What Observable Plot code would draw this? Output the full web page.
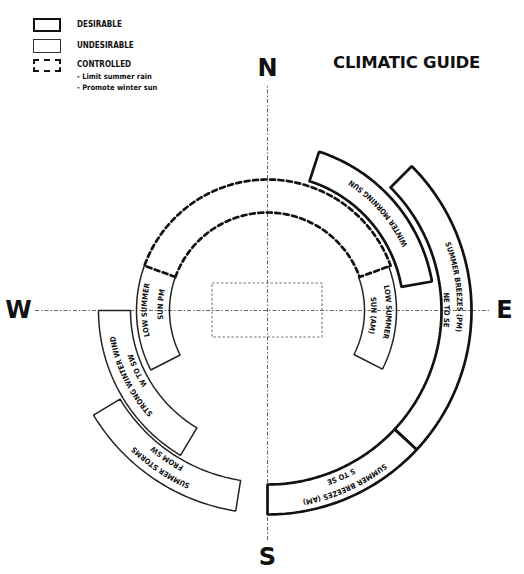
<!DOCTYPE html>
<html><head><meta charset="utf-8">
<script src="https://cdn.jsdelivr.net/npm/d3@7"></script>
<script src="https://cdn.jsdelivr.net/npm/@observablehq/plot@0.6"></script>
<style>
body{margin:0;background:#fff;}
#wrap{position:relative;width:524px;height:574px;overflow:hidden;font-family:"DejaVu Sans Condensed","DejaVu Sans",sans-serif;color:#111;}
#wrap svg{position:absolute;left:0;top:0;}
.lg-box{position:absolute;left:33px;width:28px;box-sizing:border-box;}
.lg-txt{position:absolute;left:77px;font-weight:bold;font-size:8px;line-height:10px;white-space:nowrap;}
#title{position:absolute;left:333px;top:53px;font-family:"DejaVu Sans",sans-serif;font-weight:bold;font-size:16.5px;white-space:nowrap;letter-spacing:-0.2px;}
</style></head>
<body><div id="wrap">
<div class="lg-box" style="top:18px;height:14px;border:2.6px solid #111;"></div>
<div class="lg-box" style="top:39px;height:14px;border:1.4px solid #333;"></div>
<div class="lg-box" style="top:59px;height:13px;border:2px dashed #111;"></div>
<div class="lg-txt" style="top:20px;">DESIRABLE</div>
<div class="lg-txt" style="top:41px;">UNDESIRABLE</div>
<div class="lg-txt" style="top:60px;">CONTROLLED</div>
<div class="lg-txt" style="top:72px;font-size:7.5px;">- Limit summer rain</div>
<div class="lg-txt" style="top:83px;font-size:7.5px;">- Promote winter sun</div>
<div id="title">CLIMATIC GUIDE</div>
</div>
<script>
// ---- data ----
const bandNames   = ["WINTER MORNING SUN","SUMMER BREEZES (PM)","SUMMER BREEZES (AM)","LOW SUMMER SUN (AM)","LOW SUMMER SUN PM","STRONG WINTER WIND","SUMMER STORMS"];
const bandKind    = ["desirable","desirable","desirable","undesirable","undesirable","undesirable","undesirable"];
const bandStart   = [18, 45, 133, 70, 243, 211, 189];   // compass bearing, degrees
const bandEnd     = [80, 133, 180, 117, 290, 270, 239];
const bandInner   = [136, 174, 174, 97, 98, 137, 172];
const bandOuter   = [167, 204, 204, 129, 131, 169, 203];
const bandOpenEdge= [null, null, null, "start", "end", null, null];

const ctrlStart = [290];
const ctrlEnd   = [430];
const ctrlInner = [98];
const ctrlOuter = [131];

const labelLines     = ["WINTER MORNING SUN","SUMMER BREEZES (PM)","NE TO SE","LOW SUMMER","SUN (AM)","SUMMER BREEZES (AM)","S TO SE","SUMMER STORMS","FROM SW","STRONG WINTER WIND","W TO SW","LOW SUMMER","SUN PM"];
const labelBearing   = [49, 83, 90, 91, 93, 156, 156, 214, 214, 244, 245, 270, 273];
const labelRadius    = [152, 193, 180, 122, 107, 196, 183, 193, 180, 157, 144, 123, 107];
const labelClockwise = [false, true, true, true, true, true, true, true, true, true, true, true, true];

const compassLabels  = ["N","E","S","W"];
const compassBearing = [0, 90, 180, 270];
const compassRadius  = [242, 237, 247, 249];

const axisNorth = [225], axisSouth = [-230], axisWest = [-232], axisEast = [223];
const houseWidth = [110], houseDepth = [54];

// ---- geometry helpers ----
const rad = a => a * Math.PI / 180;
const pt = (b, r, id) => ({x: r * Math.sin(rad(b)), y: r * Math.cos(rad(b)), id});
function arcPts(r, a0, a1, id, out) {
  const n = Math.max(2, Math.ceil(Math.abs(a1 - a0)));
  for (let k = 0; k <= n; k++) out.push(pt(a0 + (a1 - a0) * k / n, r, id));
}
function outline(s, e, ri, ro, open, id) {
  const p = [];
  if (open === "start") { arcPts(ro, s, e, id, p); arcPts(ri, e, s, id, p); }
  else if (open === "end") { arcPts(ro, e, s, id, p); arcPts(ri, s, e, id, p); }
  else { arcPts(ri, s, e, id, p); arcPts(ro, e, s, id, p); p.push(pt(s, ri, id)); }
  return p;
}
const bandPts = bandNames.map((n, i) => ({kind: bandKind[i], pts: outline(bandStart[i], bandEnd[i], bandInner[i], bandOuter[i], bandOpenEdge[i], n)}));
const desirablePts = bandPts.filter(d => d.kind === "desirable").flatMap(d => d.pts);
const undesirablePts = bandPts.filter(d => d.kind === "undesirable").flatMap(d => d.pts);
const ctrlPts = ctrlStart.flatMap((s, i) => outline(s, ctrlEnd[i], ctrlInner[i], ctrlOuter[i], null, "ctrl" + i));

const compass = compassLabels.map((t, i) => ({t, ...pt(compassBearing[i], compassRadius[i])}));
const labels = labelLines.map((t, i) => ({t, b: labelBearing[i], r: labelRadius[i], cw: labelClockwise[i]}));

// custom mark: text along arcs, positioned with Plot's scales
function arcLabels(index, scales) {
  const sx = scales.x, sy = scales.y;
  const g = d3.create("svg:g")
    .attr("font-family", "'DejaVu Sans Condensed','DejaVu Sans',sans-serif")
    .attr("font-weight", "bold").attr("font-size", 7.5).attr("fill", "#111");
  const defs = g.append("defs");
  labels.forEach((d, i) => {
    const rBase = d.cw ? d.r - 2.8 : d.r + 2.8;
    const span = 70;
    const a0 = d.cw ? d.b - span : d.b + span;
    const a1 = d.cw ? d.b + span : d.b - span;
    const p0 = pt(a0, rBase), p1 = pt(a1, rBase);
    const rp = Math.abs(sx(rBase) - sx(0));
    const id = "arcLbl" + i;
    defs.append("path").attr("id", id)
      .attr("d", `M${sx(p0.x)},${sy(p0.y)} A${rp},${rp} 0 0 ${d.cw ? 1 : 0} ${sx(p1.x)},${sy(p1.y)}`);
    g.append("text").append("textPath")
      .attr("href", "#" + id).attr("startOffset", "50%").attr("text-anchor", "middle")
      .text(d.t);
  });
  return g.node();
}

const chart = Plot.plot({
  width: 524, height: 574, margin: 0,
  x: {domain: [-267, 257], axis: null},
  y: {domain: [-264, 310], axis: null},
  style: {background: "transparent", overflow: "visible"},
  marks: [
    Plot.ruleY([0], {x1: axisWest[0], x2: axisEast[0], stroke: "#666", strokeWidth: 1.1, strokeDasharray: "4,2,1.5,2"}),
    Plot.ruleX([0], {y1: axisSouth[0], y2: axisNorth[0], stroke: "#666", strokeWidth: 1.1, strokeDasharray: "4,2,1.5,2"}),
    Plot.rect([0], {x1: -houseWidth[0] / 2, x2: houseWidth[0] / 2, y1: -houseDepth[0] / 2, y2: houseDepth[0] / 2, fill: "none", stroke: "#777", strokeWidth: 1.1, strokeDasharray: "2.5,2"}),
    Plot.line(ctrlPts, {x: "x", y: "y", z: "id", stroke: "#111", strokeWidth: 2.7, strokeDasharray: "5,3.5"}),
    Plot.line(undesirablePts, {x: "x", y: "y", z: "id", stroke: "#222", strokeWidth: 1.5, strokeLinejoin: "miter"}),
    Plot.line(desirablePts, {x: "x", y: "y", z: "id", stroke: "#111", strokeWidth: 2.7, strokeLinejoin: "miter"}),
    arcLabels,
    Plot.text(compass, {x: "x", y: "y", text: "t", fontSize: 24, fontWeight: "bold", fill: "#111", fontFamily: "DejaVu Sans"})
  ]
});
document.getElementById("wrap").prepend(chart);
</script>
</body></html>
